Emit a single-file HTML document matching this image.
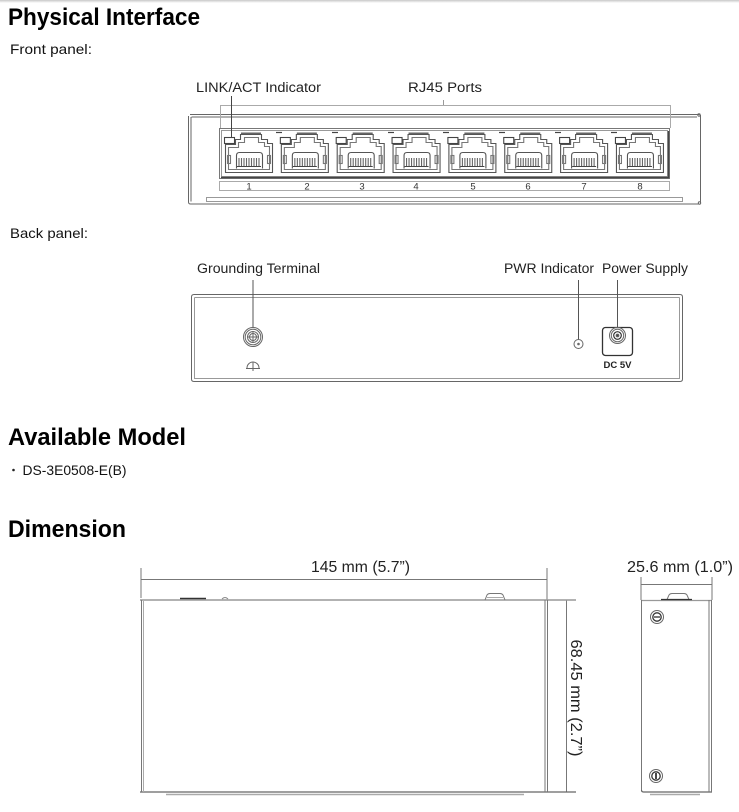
<!DOCTYPE html>
<html><head><meta charset="utf-8"><style>html,body{margin:0;padding:0;background:#fff}svg{display:block}</style></head>
<body>
<svg xmlns="http://www.w3.org/2000/svg" xmlns:xlink="http://www.w3.org/1999/xlink" width="739" height="812" viewBox="0 0 739 812" font-family="'Liberation Sans', sans-serif">
<defs>
<linearGradient id="tg" x1="0" y1="0" x2="0" y2="1"><stop offset="0" stop-color="#c8c8c8"/><stop offset="1" stop-color="#ffffff"/></linearGradient>
<g id="port" fill="none" stroke="#555" stroke-width="1.1">
  <rect x="224.5" y="137.5" width="10" height="6" stroke="#444"/>
  <rect x="241" y="132.5" width="20" height="2" fill="#666" stroke="none"/>
  <path d="M225.5,172.5 V144.5 H235.5 V139.5 H240.5 V134.5 H261.5 V139.5 H267.5 V143.5 H272.5 V172.5 Z"/>
  <path d="M228.5,169.5 V147.5 H238.5 V142.5 H244.5 V137.5 H258.5 V142.5 H264.5 V146.5 H269.5 V169.5 Z" stroke="#777"/>
  <path d="M236.5,168.5 V155.5 Q236.5,152.5 239.5,152.5 H259.5 Q262.5,152.5 262.5,155.5 V168.5" stroke="#555"/>
  <path d="M239,158V166M241.5,158V166M244,158V166M246.5,158V166M249,158V166M251.5,158V166M254,158V166M256.5,158V166M259,158V166" stroke="#666"/>
  <line x1="237" y1="166.5" x2="261" y2="166.5" stroke="#444"/>
  <rect x="227.5" y="155.5" width="3" height="8" stroke="#777"/>
  <rect x="267.5" y="155.5" width="3" height="8" stroke="#777"/>
</g>
</defs>

<rect x="0" y="0" width="739" height="3" fill="url(#tg)"/>

<!-- Headings -->
<text x="8" y="25" font-size="24" font-weight="bold" fill="#000" textLength="192" lengthAdjust="spacingAndGlyphs">Physical Interface</text>
<text x="10" y="54" font-size="14" fill="#111" textLength="82" lengthAdjust="spacingAndGlyphs">Front panel:</text>

<!-- Front panel labels -->
<text x="196" y="92" font-size="13.5" fill="#222" textLength="125" lengthAdjust="spacingAndGlyphs">LINK/ACT Indicator</text>
<text x="408" y="92" font-size="13.5" fill="#222" textLength="74" lengthAdjust="spacingAndGlyphs">RJ45 Ports</text>

<!-- Front panel body -->
<g fill="none" stroke="#666" stroke-width="1">
  <path d="M190,114.5 H699.5 M191.5,117 H697"/>
  <path d="M188.5,116 V202 Q188.5,204 190.5,204 H699 M191,117 V201.5"/>
  <path d="M700.5,115 V203"/>
  <circle cx="699" cy="115" r="1.2"/>
  <circle cx="699.5" cy="203" r="1.2"/>
  <rect x="206.5" y="197.5" width="476" height="4" stroke="#999"/>
  <!-- bracket -->
  <path d="M220.5,128 V105.5 H670.5 V128" stroke="#aaa"/>
  <line x1="443.5" y1="100" x2="443.5" y2="105" stroke="#999"/>
  <!-- inner panel -->
  <rect x="219.5" y="128.5" width="450" height="50" stroke="#777"/>
  <rect x="221.5" y="130.5" width="446" height="46" stroke="#999"/>
  <line x1="221" y1="177.5" x2="669" y2="177.5" stroke="#444" stroke-width="1.5"/>
  <line x1="668.5" y1="131" x2="668.5" y2="178" stroke="#444" stroke-width="1.5"/>
  <!-- number strip -->
  <rect x="219.5" y="181.5" width="450" height="9" stroke="#aaa"/>
</g>
<g stroke="#444" stroke-width="1.2">
  <line x1="276" y1="132.5" x2="282" y2="132.5"/>
  <line x1="332" y1="132.5" x2="338" y2="132.5"/>
  <line x1="388" y1="132.5" x2="394" y2="132.5"/>
  <line x1="443" y1="132.5" x2="449" y2="132.5"/>
  <line x1="499" y1="132.5" x2="505" y2="132.5"/>
  <line x1="555" y1="132.5" x2="561" y2="132.5"/>
  <line x1="611" y1="132.5" x2="617" y2="132.5"/>
</g>
<use xlink:href="#port"/>
<use xlink:href="#port" transform="translate(55.85,0)"/>
<use xlink:href="#port" transform="translate(111.7,0)"/>
<use xlink:href="#port" transform="translate(167.55,0)"/>
<use xlink:href="#port" transform="translate(223.4,0)"/>
<use xlink:href="#port" transform="translate(279.25,0)"/>
<use xlink:href="#port" transform="translate(335.1,0)"/>
<use xlink:href="#port" transform="translate(390.95,0)"/>
<line x1="231.5" y1="96" x2="231.5" y2="137" stroke="#444" stroke-width="1"/>
<g font-size="9.5" fill="#333" text-anchor="middle">
  <text x="249" y="189.5">1</text>
  <text x="307" y="189.5">2</text>
  <text x="362" y="189.5">3</text>
  <text x="416" y="189.5">4</text>
  <text x="473" y="189.5">5</text>
  <text x="528" y="189.5">6</text>
  <text x="584" y="189.5">7</text>
  <text x="640" y="189.5">8</text>
</g>

<!-- Back panel -->
<text x="10" y="238" font-size="14" fill="#111" textLength="78" lengthAdjust="spacingAndGlyphs">Back panel:</text>
<text x="197" y="273" font-size="13.5" fill="#222" textLength="123" lengthAdjust="spacingAndGlyphs">Grounding Terminal</text>
<text x="504" y="273" font-size="13.5" fill="#222" textLength="90" lengthAdjust="spacingAndGlyphs">PWR Indicator</text>
<text x="602" y="273" font-size="13.5" fill="#222" textLength="86" lengthAdjust="spacingAndGlyphs">Power Supply</text>

<g fill="none" stroke="#666" stroke-width="1">
  <path d="M191.5,297 Q191.5,294.5 194,294.5 H680 Q682.5,294.5 682.5,297 V379 Q682.5,381.5 680,381.5 H194 Q191.5,381.5 191.5,379 Z"/>
  <path d="M194.5,297.5 H679.5 M194.5,297.5 V378.5 H679.5 V297.5" stroke="#999"/>
  <!-- ground screw -->
  <line x1="253" y1="280" x2="253" y2="327" stroke="#555"/>
  <circle cx="253" cy="337" r="9.5"/>
  <circle cx="253" cy="337" r="7.8"/>
  <circle cx="253" cy="337" r="5.5"/>
  <circle cx="253" cy="337" r="3.5"/>
  <path d="M248,337 H258 M253,332 V342"/>
  <!-- ground symbol -->
  <path d="M247,368 A6,6 0 0 1 259,368"/>
  <path d="M246,368.5 H260 M253,362 V371"/>
  <!-- PWR indicator -->
  <line x1="578.5" y1="280" x2="578.5" y2="339.5" stroke="#555"/>
  <circle cx="578.5" cy="344" r="4.5"/>
  <circle cx="578.5" cy="344" r="0.8" fill="#888"/>
  <!-- power supply -->
  <line x1="617.5" y1="280" x2="617.5" y2="327" stroke="#555"/>
  <rect x="602.5" y="327.5" width="30" height="28" rx="3" stroke="#333" stroke-width="1.3"/>
  <circle cx="617.5" cy="335.5" r="8"/>
  <circle cx="617.5" cy="335.5" r="6.2"/>
  <circle cx="617.5" cy="335.5" r="3.8" stroke="#333" stroke-width="1.2"/>
  <circle cx="617.5" cy="335.5" r="1.4" fill="#444"/>
</g>
<text x="617.5" y="368" font-size="9" font-weight="bold" fill="#222" text-anchor="middle" textLength="28" lengthAdjust="spacingAndGlyphs">DC 5V</text>

<!-- Available Model -->
<text x="8" y="445" font-size="24" font-weight="bold" fill="#000" textLength="178" lengthAdjust="spacingAndGlyphs">Available Model</text>
<circle cx="13.5" cy="470" r="1.3" fill="#222"/>
<text x="22.5" y="475" font-size="14" fill="#111" textLength="104" lengthAdjust="spacingAndGlyphs">DS-3E0508-E(B)</text>

<!-- Dimension -->
<text x="8" y="537" font-size="24" font-weight="bold" fill="#000" textLength="118" lengthAdjust="spacingAndGlyphs">Dimension</text>

<text x="311" y="572" font-size="15.5" fill="#222" textLength="99" lengthAdjust="spacingAndGlyphs">145 mm (5.7”)</text>
<text x="627" y="572" font-size="15.5" fill="#222" textLength="106" lengthAdjust="spacingAndGlyphs">25.6 mm (1.0”)</text>
<text transform="translate(571,698) rotate(90)" x="0" y="0" font-size="15.5" fill="#222" text-anchor="middle" textLength="117" lengthAdjust="spacingAndGlyphs">68.45 mm (2.7”)</text>

<g fill="none" stroke="#777" stroke-width="1">
  <!-- main dims -->
  <line x1="141" y1="579.5" x2="547" y2="579.5"/>
  <line x1="141" y1="568" x2="141" y2="598"/>
  <line x1="547" y1="568" x2="547" y2="600"/>
  <line x1="566.5" y1="600" x2="566.5" y2="792"/>
  <!-- main body -->
  <line x1="140" y1="600" x2="576" y2="600" stroke="#999" stroke-width="1.5"/>
  <line x1="140" y1="792" x2="576" y2="792" stroke="#666" stroke-width="1.2"/>
  <line x1="141.5" y1="600" x2="141.5" y2="792"/>
  <line x1="143.5" y1="601" x2="143.5" y2="792" stroke="#aaa"/>
  <line x1="545" y1="600" x2="545" y2="792"/>
  <line x1="547.5" y1="600" x2="547.5" y2="792"/>
  <line x1="166" y1="794.5" x2="524" y2="794.5" stroke="#aaa" stroke-width="1.5"/>
  <!-- knobs -->
  <line x1="180" y1="598.5" x2="206" y2="598.5" stroke="#333" stroke-width="1.5"/>
  <path d="M222,599 Q225,596 228,599" stroke="#888"/>
  <path d="M485,600 L487,595 Q488,593.5 490,593.5 H500 Q502,593.5 503,595 L505,600" stroke="#777"/>
  <line x1="487" y1="597.5" x2="503" y2="597.5" stroke="#aaa"/>
  <!-- side dims -->
  <line x1="641" y1="584.5" x2="712" y2="584.5"/>
  <line x1="641" y1="577" x2="641" y2="600"/>
  <line x1="712" y1="577" x2="712" y2="600"/>
  <!-- side body -->
  <line x1="641" y1="600.5" x2="712" y2="600.5" stroke="#999" stroke-width="1.2"/>
  <line x1="641.5" y1="600" x2="641.5" y2="790"/>
  <path d="M641.5,790 Q641.5,792 643.5,792 H712" stroke="#666" stroke-width="1.2"/>
  <line x1="709" y1="600" x2="709" y2="792"/>
  <line x1="711.5" y1="600" x2="711.5" y2="792"/>
  <line x1="650" y1="794.5" x2="700" y2="794.5" stroke="#aaa" stroke-width="1.5"/>
  <path d="M667,599.5 L669,595 Q670,593.5 672,593.5 H684 Q686,593.5 687,595 L689,599.5" stroke="#777"/>
  <line x1="661" y1="599.5" x2="692" y2="599.5" stroke="#333" stroke-width="1.3"/>
  <!-- screws -->
  <circle cx="657" cy="617" r="6.5" stroke="#666"/>
  <circle cx="657" cy="617" r="4.2" stroke="#333" stroke-width="1.3"/>
  <line x1="654" y1="617" x2="660" y2="617" stroke="#333" stroke-width="1.3"/>
  <circle cx="656" cy="776" r="6.5" stroke="#666"/>
  <circle cx="656" cy="776" r="4.2" stroke="#333" stroke-width="1.3"/>
  <line x1="656" y1="773" x2="656" y2="779" stroke="#333" stroke-width="1.8"/>
</g>
</svg>
</body></html>
